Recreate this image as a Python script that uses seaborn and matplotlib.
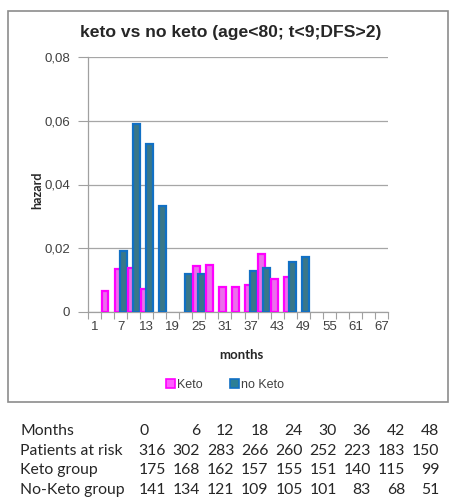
import pandas as pd
import matplotlib.pyplot as plt
import seaborn as sns
import numpy as np
from matplotlib.patches import Rectangle

sns.set_style('white')
plt.rcParams['font.family'] = ['Liberation Sans', 'DejaVu Sans']

# Data: hazard per 3-month interval
months = [1, 4, 7, 10, 13, 16, 19, 22, 25, 28, 31, 34, 37, 40, 43, 46, 49,
          52, 55, 58, 61, 64, 67]
keto = [0, 0.0066, 0.0134, 0.0137, 0.0072, 0, 0, 0, 0.0144, 0.0148, 0.0077,
        0.0079, 0.0085, 0.0180, 0.0102, 0.0108, 0, 0, 0, 0, 0, 0, 0]
no_keto = [0, 0, 0.0191, 0.0591, 0.0526, 0.0333, 0, 0.0118, 0.0120, 0, 0, 0,
           0.0129, 0.0136, 0, 0.0157, 0.0173, 0, 0, 0, 0, 0, 0]
yticks = [0, 0.02, 0.04, 0.06, 0.08]
ytick_labels = ['0', '0,02', '0,04', '0,06', '0,08']

# Table of patients at risk
table_months = [0, 6, 12, 18, 24, 30, 36, 42, 48]
at_risk = [316, 302, 283, 266, 260, 252, 223, 183, 150]
keto_group = [175, 168, 162, 157, 155, 151, 140, 115, 99]
noketo_group = [141, 134, 121, 109, 105, 101, 83, 68, 51]

df = pd.DataFrame({
    'month': months * 2,
    'hazard': keto + no_keto,
    'group': ['Keto'] * len(months) + ['no Keto'] * len(months),
})

W, H = 450, 497
fig = plt.figure(figsize=(W / 100, H / 100), dpi=100)
ax = fig.add_axes([88 / W, 1 - 311.7 / H, 300 / W, 254.4 / H])

face = {'Keto': '#ff5cff', 'no Keto': '#2c7f96'}
edge = {'Keto': '#ff00ff', 'no Keto': '#1170c4'}
sns.barplot(data=df, x='month', y='hazard', hue='group', order=months,
            palette=face, ax=ax, legend=False, errorbar=None, zorder=3)

# Excel-like overlapping bars, drawn category by category
bw = 0.61
for k, (name, cont) in enumerate(zip(['Keto', 'no Keto'], ax.containers)):
    for i, bar in enumerate(cont):
        bar.set_width(bw - 0.08)
        bar.set_x(i - 0.5 + 0.04 + k * (1 - bw))
        bar.set_edgecolor(edge[name])
        bar.set_linewidth(1.6)
        bar.set_zorder(3 + i * 0.01 + k * 0.005)
        if bar.get_height() == 0:
            bar.set_visible(False)

ax.set_xlim(-0.5, len(months) - 0.5)
ax.set_ylim(0, 0.08)
ax.set_yticks(yticks)
ax.set_yticklabels(ytick_labels)
ax.set_xticks(range(0, len(months), 2))
ax.set_xticklabels([str(m) for m in months[::2]])
ax.set_xticks(np.arange(-0.5, len(months), 1), minor=True)
ax.tick_params(axis='x', which='major', length=0, pad=7, labelsize=9.5,
               labelcolor='#404040')
ax.tick_params(axis='x', which='minor', length=5, color='#a0a0a0', width=0.8,
               direction='out', bottom=True)
ax.tick_params(axis='y', length=7, color='#a0a0a0', width=0.8, direction='out',
               left=True, labelsize=9.5, labelcolor='#404040', pad=6)
ax.yaxis.grid(True, color='#a6a6a6', linewidth=0.9, zorder=0)
ax.set_axisbelow(True)
for s in ['top', 'right']:
    ax.spines[s].set_visible(False)
for s in ['left', 'bottom']:
    ax.spines[s].set_color('#a0a0a0')
    ax.spines[s].set_linewidth(0.9)

ax.set_xlabel('')
ax.set_ylabel('')
fig.text(37 / W, 1 - 190 / H, 'hazard', rotation=90, ha='center', va='center',
         fontsize=9, fontweight='bold', family=['Lato', 'DejaVu Sans'])
fig.text(241 / W, 1 - 355 / H, 'months', ha='center', va='center',
         fontsize=9.5, fontweight='bold', family=['Lato', 'DejaVu Sans'])
fig.text(231 / W, 1 - 32 / H, 'keto vs no keto (age<80; t<9;DFS>2)',
         ha='center', va='center', fontsize=12.6, fontweight='bold')

# legend
handles = [Rectangle((0, 0), 1, 1, facecolor=face[g], edgecolor=edge[g], linewidth=1.2)
           for g in ['Keto', 'no Keto']]
fig.legend(handles, ['Keto', 'no Keto'], loc='center', bbox_to_anchor=(225 / W, 1 - 385 / H),
           ncol=2, frameon=False, fontsize=9, handlelength=0.7, handleheight=0.7,
           handletextpad=0.15, columnspacing=2.2, labelcolor='#404040')

# chart border
fig.patches.append(Rectangle((8 / W, 1 - 402 / H), 440 / W, 391 / H,
                             transform=fig.transFigure, fill=False,
                             edgecolor='#8c8c8c', linewidth=1.2))

# patients at risk table
tfont = ['Lato', 'DejaVu Sans']
rows = [('Months', table_months), ('Patients at risk', at_risk),
        ('Keto group', keto_group), ('No-Keto group', noketo_group)]
for r, (label, vals) in enumerate(rows):
    y = 1 - (431 + r * 19.7) / H
    fig.text(20 / W, y, label, ha='left', va='center', fontsize=11.3, family=tfont)
    for i, v in enumerate(vals):
        if r == 0 and i == 0:
            fig.text(140 / W, y, str(v), ha='left', va='center', fontsize=11.3, family=tfont)
        else:
            fig.text((166 + 34.16 * i) / W, y, str(v), ha='right', va='center',
                     fontsize=11.3, family=tfont)

fig.savefig('out.png', dpi=100)
